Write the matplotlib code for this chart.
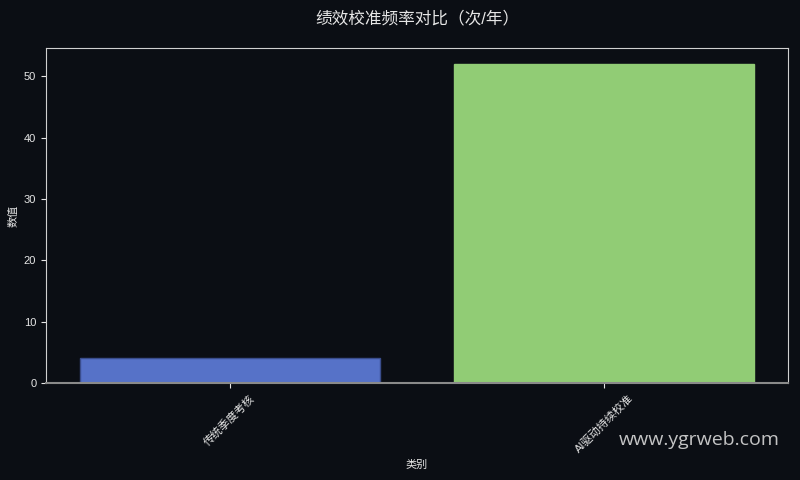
import matplotlib
matplotlib.use("Agg")
import matplotlib.pyplot as plt

plt.rcParams['font.family'] = ['Liberation Sans', 'Noto Sans CJK SC', 'DejaVu Sans']

# 数据
categories = ["传统季度考核", "AI驱动持续校准"]
values = [4, 52]
bar_colors = ["#5672c8", "#91cc75"]
edge_colors = ["#3a4d8c", "#91cc75"]

bg = "#0b0e14"
fg = "#e6e6e6"

fig, ax = plt.subplots(figsize=(8, 4.8), dpi=100)
fig.patch.set_facecolor(bg)
ax.set_facecolor(bg)

ax.bar(categories, values, color=bar_colors, width=0.8,
       edgecolor=edge_colors, linewidth=1)

ax.set_title("绩效校准频率对比（次/年）", color=fg, fontsize=12, pad=18)
ax.set_xlabel("类别", color=fg, fontsize=8)
ax.set_ylabel("数值", color=fg, fontsize=8)

ax.tick_params(axis="both", colors=fg, labelsize=8)
plt.setp(ax.get_xticklabels(), rotation=45)

for side in ["top", "right", "left"]:
    ax.spines[side].set_color("#d0d0d0")
ax.spines["bottom"].set_color("#8a8a8a")
ax.spines["bottom"].set_linewidth(1.5)

fig.text(0.975, 0.065, "www.ygrweb.com", color="#d8d8d8", fontsize=14,
         ha="right", va="bottom", family=["Open Sans", "DejaVu Sans"], alpha=0.9)

fig.subplots_adjust(left=0.0575, right=0.985, top=0.9, bottom=0.202)
fig.savefig("out.png", dpi=100, facecolor=bg)
